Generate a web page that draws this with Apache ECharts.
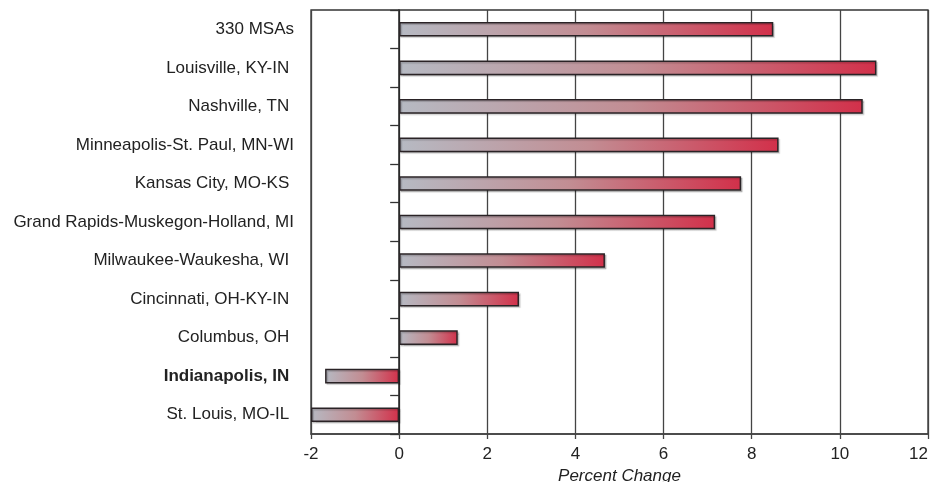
<!DOCTYPE html>
<html>
<head>
<meta charset="utf-8">
<script src="https://cdn.jsdelivr.net/npm/echarts@6/dist/echarts.min.js"></script>
<style>
html,body{margin:0;padding:0;background:#fff;}
#chart{width:932px;height:482px;}
</style>
</head>
<body>
<div id="chart"></div>
<script>
var categories = [
  "330 MSAs",
  "Louisville, KY-IN ",
  "Nashville, TN ",
  "Minneapolis-St. Paul, MN-WI",
  "Kansas City, MO-KS ",
  "Grand Rapids-Muskegon-Holland, MI",
  "Milwaukee-Waukesha, WI ",
  "Cincinnati, OH-KY-IN ",
  "Columbus, OH ",
  "Indianapolis, IN ",
  "St. Louis, MO-IL "
];
var values = [8.49, 10.83, 10.52, 8.61, 7.76, 7.17, 4.67, 2.72, 1.33, -1.68, -2.0];
var xTicks = { min: -2, max: 12, interval: 2 };
var axisTitle = "Percent Change";
var boldCategory = "Indianapolis, IN ";

var chart = echarts.init(document.getElementById('chart'));
var grad = new echarts.graphic.LinearGradient(0, 0.3, 1, 0.7, [
  { offset: 0, color: '#b6bac3' },
  { offset: 0.5, color: '#c28d93' },
  { offset: 1, color: '#d2304a' }
]);
chart.setOption({
  animation: false,
  backgroundColor: '#ffffff',
  grid: {
    left: 311, right: 4, top: 10, bottom: 48,
    containLabel: false,
    outerBoundsMode: 'none',
    show: true, borderColor: '#333', borderWidth: 1.3, backgroundColor: 'transparent'
  },
  xAxis: {
    type: 'value',
    min: xTicks.min, max: xTicks.max, interval: xTicks.interval,
    name: axisTitle,
    nameLocation: 'middle',
    nameGap: 34,
    nameTextStyle: { fontFamily: 'Liberation Sans', fontSize: 17, fontStyle: 'italic', color: '#222' },
    axisLine: { show: true, lineStyle: { color: '#444', width: 1.5 } },
    axisTick: { show: true, length: 5, lineStyle: { color: '#444', width: 1.3 } },
    axisLabel: { fontFamily: 'Liberation Sans', fontSize: 17, color: '#222', margin: 12, alignMaxLabel: 'right' },
    splitLine: { show: true, lineStyle: { color: '#444', width: 1.3 } }
  },
  yAxis: {
    type: 'category',
    data: categories,
    inverse: true,
    axisLine: { show: true, onZero: true, lineStyle: { color: '#222', width: 1.5 } },
    axisTick: { show: true, length: 9, lineStyle: { color: '#333', width: 1.3 } },
    axisLabel: {
      fontFamily: 'Liberation Sans', fontSize: 17, color: '#222', margin: 17,
      formatter: function (v) { return v === boldCategory ? '{b|' + v + '}' : v; },
      rich: { b: { fontFamily: 'Liberation Sans', fontSize: 17, fontWeight: 'bold', color: '#222' } }
    },
    splitLine: { show: false }
  },
  series: [{
    type: 'bar',
    data: values,
    barWidth: '38%',
    itemStyle: {
      color: grad,
      borderColor: '#2a2326',
      borderWidth: 1.5,
      shadowColor: 'rgba(0,0,0,0.18)',
      shadowOffsetX: 1.5,
      shadowOffsetY: 1.5,
      shadowBlur: 1
    }
  }]
});
</script>
</body>
</html>
